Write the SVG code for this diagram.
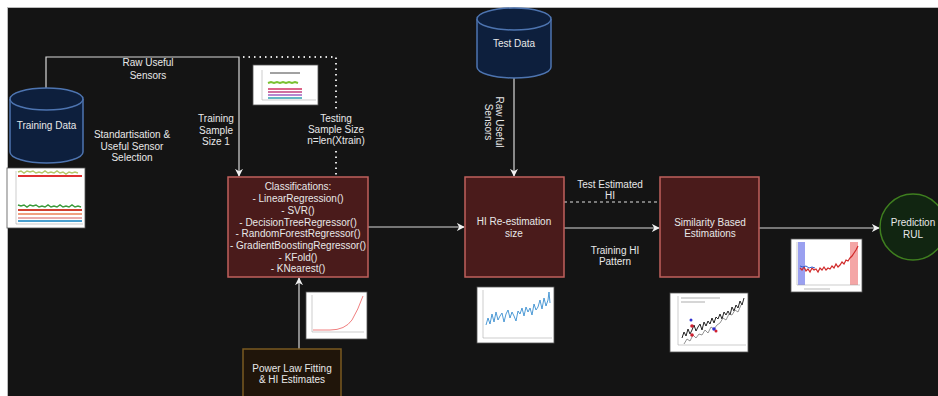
<svg xmlns="http://www.w3.org/2000/svg" width="938" height="396" viewBox="0 0 938 396">
<defs>
<style>
text{font-family:"Liberation Sans",Arial,sans-serif;font-size:10px;fill:#e8e8e8;text-anchor:middle}
.box{fill:#4a1b1b;stroke:#c0605c;stroke-width:1.5}
.cyl{fill:#0d1f3d;stroke:#4d74b0;stroke-width:1.5}
.edge{fill:none;stroke:#d8d8d8;stroke-width:1.2}
.dot{fill:none;stroke:#e0e0e0;stroke-width:2;stroke-dasharray:1.5 4}
.dash{fill:none;stroke:#e0e0e0;stroke-width:1.2;stroke-dasharray:3 3}
.chart{fill:#ffffff;stroke:#555;stroke-width:0.8}
.ax{fill:none;stroke:#999;stroke-width:0.5}
</style>
<marker id="arr" viewBox="0 0 10 10" refX="9" refY="5" markerWidth="8" markerHeight="8" markerUnits="userSpaceOnUse" orient="auto">
<path d="M0,0 L10,5 L0,10 L3,5 Z" fill="#f0f0f0"/>
</marker>
</defs>
<rect x="0" y="0" width="938" height="396" fill="#ffffff"/>
<rect x="7" y="7" width="931" height="389" fill="#141414"/>
<line x1="7" y1="7.5" x2="938" y2="7.5" stroke="#bbb" stroke-width="1"/>
<line x1="7.5" y1="7" x2="7.5" y2="396" stroke="#bbb" stroke-width="1"/>

<g id="connectors">
<path class="edge" d="M46,88 V57 H239 V176" marker-end="url(#arr)"/>
<path class="dot" d="M243,57 H336 V177"/>
<path class="edge" d="M368,227 H464" marker-end="url(#arr)"/>
<path class="edge" d="M514,78 V176" marker-end="url(#arr)"/>
<path class="dash" d="M564,202 H660"/>
<path class="edge" d="M564,228 H659" marker-end="url(#arr)"/>
<path class="edge" d="M759,228 H879" marker-end="url(#arr)"/>
<path class="edge" d="M299,349 V278" marker-end="url(#arr)"/>
</g>

<g id="labels">
<text x="148" y="66">Raw Useful</text>
<text x="148" y="79">Sensors</text>
<text x="132" y="138">Standartisation &amp;</text>
<text x="132" y="150">Useful Sensor</text>
<text x="132" y="161">Selection</text>
<text x="216" y="122">Training</text>
<text x="216" y="134">Sample</text>
<text x="216" y="145">Size 1</text>
<rect x="304" y="111" width="64" height="37" fill="#141414"/>
<text x="336" y="122">Testing</text>
<text x="336" y="133">Sample Size</text>
<text x="336" y="144">n=len(Xtrain)</text>
<g transform="translate(495,122) rotate(90)">
<text x="0" y="-1">Raw Useful</text>
<text x="0" y="10">Sensors</text>
</g>
<text x="610" y="188">Test Estimated</text>
<text x="610" y="199">HI</text>
<text x="615" y="254">Training HI</text>
<text x="615" y="265">Pattern</text>
</g>

<g id="training-data">
<path class="cyl" d="M10,99 A36.5,11 0 0 1 83,99 L83,152 A36.5,11 0 0 1 10,152 Z"/>
<path class="cyl" d="M10,99 A36.5,11 0 0 0 83,99"/>
<text x="46.5" y="129">Training Data</text>
</g>

<g id="test-data">
<path class="cyl" d="M477,19 A37,11 0 0 1 551,19 L551,67 A37,11 0 0 1 477,67 Z"/>
<path class="cyl" d="M477,19 A37,11 0 0 0 551,19"/>
<text x="514" y="47">Test Data</text>
</g>

<g id="classifications">
<rect class="box" x="228" y="177" width="140" height="100"/>
<text x="298" y="190">Classifications:</text>
<text x="298" y="202">- LinearRegression()</text>
<text x="298" y="214">- SVR()</text>
<text x="298" y="226">- DecisionTreeRegressor()</text>
<text x="298" y="237">- RandomForestRegressor()</text>
<text x="298" y="249">- GradientBoostingRegressor()</text>
<text x="298" y="261">- KFold()</text>
<text x="298" y="272">- KNearest()</text>
</g>

<g id="power-law">
<rect x="243" y="349" width="98" height="60" fill="#20150a" stroke="#7a5a20" stroke-width="1.5"/>
<text x="292" y="372">Power Law Fitting</text>
<text x="292" y="383">&amp; HI Estimates</text>
</g>

<g id="hi-reestimation">
<rect class="box" x="465" y="177" width="99" height="100"/>
<text x="514" y="225">HI Re-estimation</text>
<text x="514" y="237">size</text>
</g>

<g id="similarity">
<rect class="box" x="660" y="177" width="99" height="100"/>
<text x="710" y="226">Similarity Based</text>
<text x="710" y="237">Estimations</text>
</g>

<g id="prediction">
<circle cx="913" cy="227" r="33" fill="#112511" stroke="#3f7f1f" stroke-width="1.5"/>
<text x="913" y="226">Prediction</text>
<text x="913" y="238">RUL</text>
</g>

<g id="chart-training">
<rect class="chart" x="7" y="168" width="78" height="60"/>
<path class="ax" d="M16,171 V224 H83"/>
<path d="M18,172 l3,-1 3,2 3,-2 3,1 3,-1 3,2 3,-1 3,1 3,-2 3,2 3,-1 3,1 3,-2 3,2 3,-1 3,2 3,-2 3,1 3,-1 3,1" fill="none" stroke="#b5c86a" stroke-width="1.5"/>
<path d="M18,176 H82" fill="none" stroke="#e03030" stroke-width="2"/>
<path d="M18,205 l3,1 3,-1 3,2 3,-2 3,1 3,-1 3,2 3,-1 3,1 3,-2 3,2 3,-1 3,1 3,-2 3,2 3,-1 3,1 3,-2 3,2 3,-1 3,1" fill="none" stroke="#3a9a3a" stroke-width="1.5"/>
<path d="M18,210 H82" fill="none" stroke="#d04030" stroke-width="2"/>
<path d="M18,214 H82" fill="none" stroke="#f0a080" stroke-width="2"/>
<path d="M18,218 H82" fill="none" stroke="#e09090" stroke-width="1.5"/>
<path d="M18,221 H82" fill="none" stroke="#4aa0d0" stroke-width="2"/>
</g>

<g id="chart-input">
<rect class="chart" x="253" y="65" width="65" height="40"/>
<path class="ax" d="M262,70 V100 H316"/>
<path d="M270,73 H300" stroke="#444" stroke-width="1"/>
<path d="M268,83 l3,-1 3,1 3,-1 3,1 3,-1 3,1 3,-1 3,1 3,-1 3,1" fill="none" stroke="#7ac030" stroke-width="2"/>
<path d="M268,89 H302" stroke="#d03060" stroke-width="1.5"/>
<path d="M268,92 H302" stroke="#c04080" stroke-width="1.5"/>
<path d="M268,95 H302" stroke="#a060c0" stroke-width="1.5"/>
<path d="M268,98 H302" stroke="#30a0b0" stroke-width="1.5"/>
</g>

<g id="chart-power">
<rect class="chart" x="306" y="292" width="61" height="47"/>
<path class="ax" d="M312,295 V332 H364"/>
<path d="M313,330 H330 Q345,330 352,320 Q358,310 363,296" fill="none" stroke="#f08080" stroke-width="1"/>
</g>

<g id="chart-hi">
<rect class="chart" x="477" y="287" width="77" height="56"/>
<path class="ax" d="M483,290 V338 H552"/>
<path d="M486,325 488,318 490,324 492,314 494,322 496,312 498,320 500,316 502,313 504,322 506,314 508,310 510,318 512,312 514,316 516,321 518,311 520,314 522,308 524,316 526,307 528,312 530,308 532,315 534,304 536,310 538,307 540,300 542,309 544,298 546,306 548,300 549,292 550,303" fill="none" stroke="#3a8fd0" stroke-width="0.9"/>
</g>

<g id="chart-similarity">
<rect class="chart" x="670" y="293" width="78" height="59"/>
<path class="ax" d="M678,296 V345 H746"/>
<path d="M681,298 H720 M681,302 H705" stroke="#777" stroke-width="0.6"/>
<path d="M682,338 684,332 686,336 688,329 690,334 692,330 694,325 696,331 698,327 700,324 702,330 704,322 706,326 708,321 710,324 712,318 714,323 716,317 718,319 720,314 722,319 724,312 726,315 728,311 730,315 732,307 734,311 736,305 738,308 740,301 742,305 744,298" fill="none" stroke="#222" stroke-width="1"/>
<path d="M684,344 687,339 690,341 693,335 696,338 699,334 702,335 705,330 708,333 711,327 714,329 717,325 720,323 723,318 726,320 729,314 732,315 735,310 738,312 741,305" fill="none" stroke="#777" stroke-width="0.8"/>
<circle cx="692" cy="326" r="1.8" fill="#d02030"/>
<circle cx="691" cy="320" r="1.5" fill="#3030d0"/>
<circle cx="692" cy="335" r="1.8" fill="#d02030"/>
<circle cx="714" cy="329" r="1.8" fill="#3030d0"/>
<circle cx="716" cy="331" r="1.5" fill="#d02030"/>
</g>

<g id="chart-prediction">
<rect class="chart" x="791" y="239" width="71" height="53"/>
<rect x="798" y="242" width="7" height="43" fill="#9aa0f0"/>
<rect x="850" y="242" width="8" height="43" fill="#f4a6a6"/>
<path class="ax" d="M797,242 V285 H860"/>
<path d="M800,268 802,270 804,267 806,271 808,269 810,272 812,268 814,270 816,269 818,272 820,268 822,270 824,267 826,270 828,268 830,269 832,266 834,268 836,264 838,267 840,265 842,262 844,264 846,260 848,261 850,258 852,256 854,253 856,250 858,246" fill="none" stroke="#d02828" stroke-width="1.2"/>
<path d="M800,266 803,267 806,266 809,268 812,267 815,268" fill="none" stroke="#3060d0" stroke-width="1"/>
<path d="M804,289 H830" stroke="#888" stroke-width="0.6"/>
</g>
</svg>
